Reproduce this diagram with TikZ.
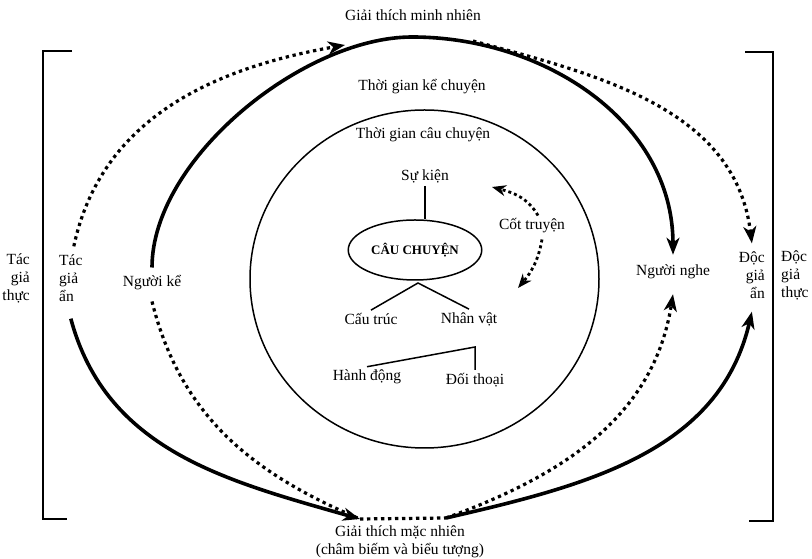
\documentclass[tikz,border=0pt]{standalone}
\usepackage{fontspec}
\setmainfont{Liberation Serif}
\usetikzlibrary{positioning,calc,arrows.meta,shapes.geometric}
\tikzset{>={Stealth[length=17pt,width=13pt,inset=5pt]}}
\tikzset{
  lbl/.style={font=\fontsize{15.5}{18}\selectfont, inner sep=3pt},
  solidarc/.style={line width=3.6pt},
  dotarc/.style={line width=3.2pt, dash pattern=on 3.3pt off 3.7pt},
  smalldot/.style={line width=2.8pt, dash pattern=on 3pt off 3pt,
    -{Stealth[length=14pt,width=11pt,inset=4.5pt]}},
  branch/.style={line width=1.5pt},
}

\begin{document}
\begin{tikzpicture}[x=1pt,y=1pt]
\useasboundingbox (0,0) rectangle (812,559);
% brackets
\draw[line width=1.8pt] (72,508) -- (43,508) -- (43,40) -- (67,40);
\draw[line width=1.8pt] (745,507) -- (773,507) -- (773,38) -- (749,38);
% outer labels
\node[lbl] (gtmn) at (413,544) {Giải thích minh nhiên};
\node[lbl,align=center] (gtmc) at (400,17) {Giải thích mặc nhiên\\(châm biếm và biểu tượng)};
\node[lbl,align=right,anchor=east] (tgt) at (33,281) {Tác\\giả\\thực};
\node[lbl,align=left,anchor=west] (tga) at (56,281) {Tác\\giả\\ẩn};
\node[lbl] (nk) at (152,276) {Người kể};
\node[lbl] (nn) at (673,287) {Người nghe};
\node[lbl,align=right,anchor=east] (dga) at (768,284) {Độc\\giả\\ẩn};
\node[lbl,align=left,anchor=west] (dgt) at (778,284) {Độc\\giả\\thực};
\node[lbl] (tgkc) at (422,472) {Thời gian kể chuyện};
% story circle
\draw[line width=1.5pt] (424.5,280) ellipse [x radius=174.5, y radius=169];
\node[lbl] (tgcc) at (423,424) {Thời gian câu chuyện};
\node[lbl] (sk) at (425,383) {Sự kiện};
\node[draw,ellipse,line width=1.5pt,minimum width=132pt,minimum height=60pt,
  font=\fontsize{13}{15}\selectfont\bfseries] (cc) at (415,309) {CÂU CHUYỆN};
\node[lbl] (ctruc) at (371,240) {Cấu trúc};
\node[lbl] (nv) at (469,240) {Nhân vật};
\node[lbl] (hd) at (367,182) {Hành động};
\node[lbl] (dt) at (475,179) {Đối thoại};
\node[lbl] (cot) at (532,333) {Cốt truyện};
\coordinate (v1) at (418,276);
\coordinate (v2) at (475,212);
\draw[branch] (sk.south) -- (sk.south |- cc.north);
\draw[branch] (ctruc.north) -- (v1) -- (nv.north);
\draw[branch] (hd.north) -- (v2) -- (dt.north);
% plot arrows
\coordinate (p1) at (492,372);
\coordinate (p2) at (518,271);
\draw[smalldot] ([xshift=6pt]cot.north) to[out=120,in=-15] (p1);
\draw[smalldot] ([xshift=10pt,yshift=-3pt]cot.south) to[out=-100,in=50] (p2);
% arcs
\coordinate (apex) at (412,522);
\coordinate (tl) at (345,514);
\coordinate (tr) at (473,518);
\coordinate (bl) at (360,40);
\coordinate (br) at (446,41);
\draw[solidarc,->] ([yshift=5pt]nk.north) to[out=90,in=180,looseness=0.8] (apex)
  to[out=0,in=90] ([yshift=7pt]nn.north);
\draw[dotarc,->] ([xshift=3pt,yshift=5pt]tga.north) to[out=78,in=190] (tl);
\draw[dotarc,->] (tr) to[out=-15,in=97] ([yshift=5pt]dga.north);
\draw[solidarc,->] ([yshift=-14pt]tga.south) to[out=-75,in=164] (bl);
\draw[dotarc] ([yshift=-8pt]nk.south) to[out=-76,in=157] (bl);
\draw[dotarc] (bl) -- (br);
\draw[solidarc,->] (br) to[out=13,in=-103] ([yshift=-10pt]dga.south);
\draw[dotarc,->] (br) to[out=20,in=-99] ([yshift=-12pt]nn.south);
\end{tikzpicture}
\end{document}
